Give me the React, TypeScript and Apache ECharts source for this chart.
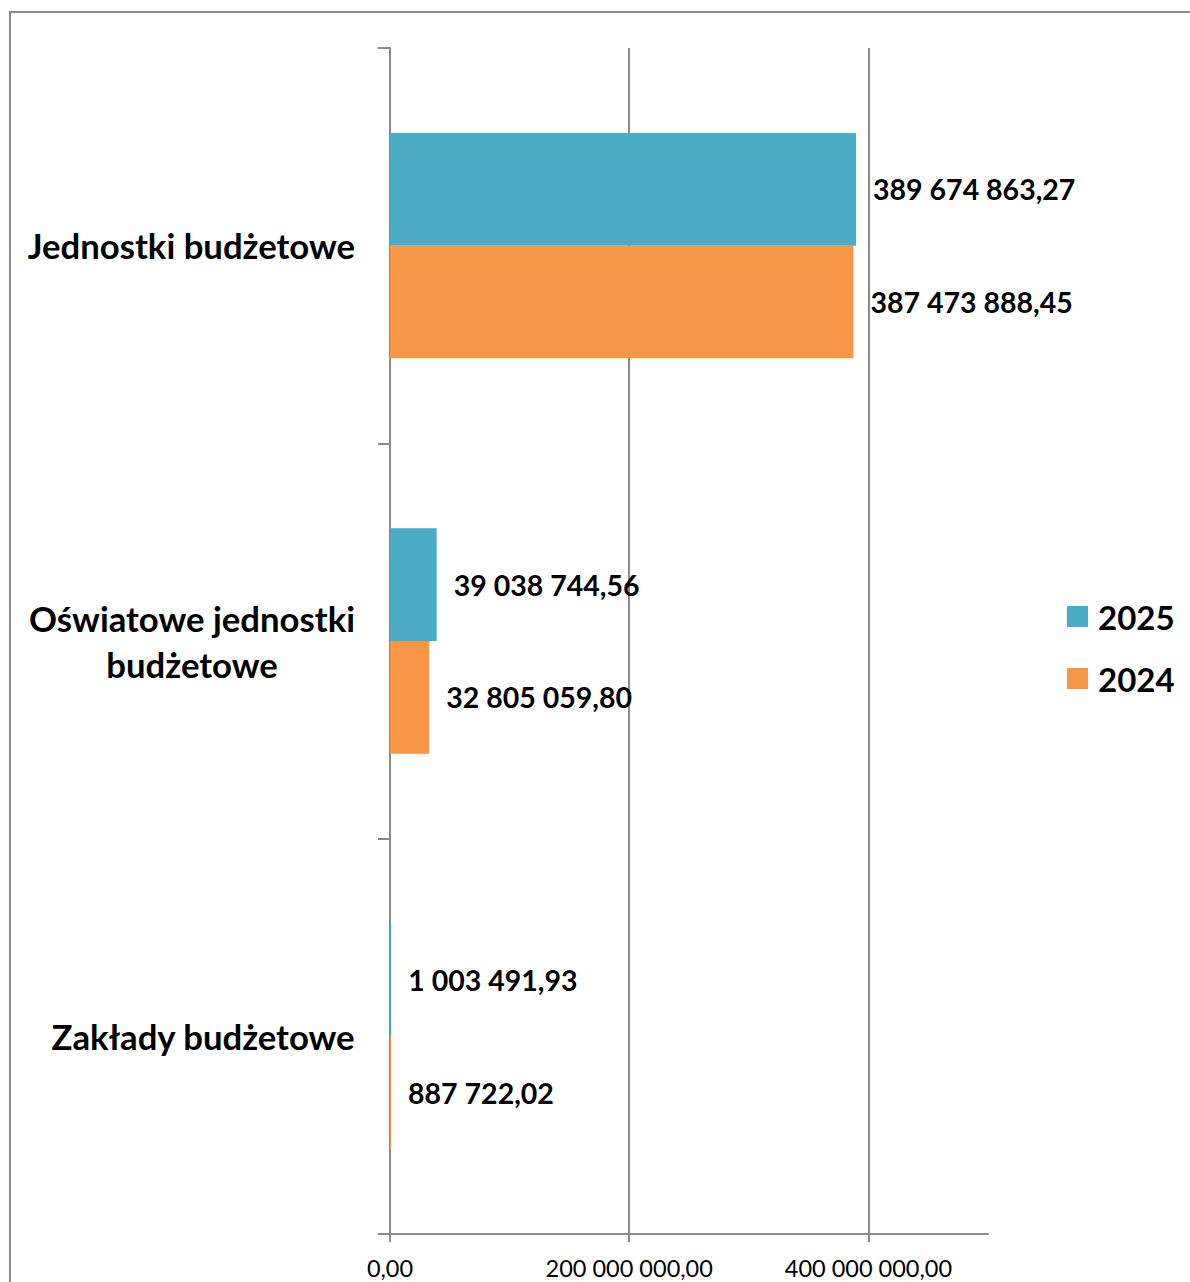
import React, { useEffect, useRef } from 'react';
import * as echarts from 'echarts';

const categories = ['Jednostki budżetowe', 'Oświatowe jednostki\nbudżetowe', 'Zakłady budżetowe'];
const seriesNames = ['2025', '2024'];
const values2025 = [389674863.27, 39038744.56, 1003491.93];
const values2024 = [387473888.45, 32805059.8, 887722.02];
const xTicks = [0, 200000000, 400000000];
const xMin = 0;
const xMax = 500000000;
const xInterval = 200000000;

const FONT = 'Lato';
const GRAY = '#8a8a8a';

function fmt(v: number): string {
  const [i, d] = Number(v).toFixed(2).split('.');
  return i.replace(/\B(?=(\d{3})+(?!\d))/g, ' ') + ',' + d;
}

export default function App() {
  const ref = useRef<HTMLDivElement>(null);
  useEffect(() => {
    if (!ref.current) return;
    const chart = echarts.init(ref.current, null, { renderer: 'svg' });
    const labelStyle = {
      show: true,
      position: 'right',
      distance: 17,
      formatter: (p: any) => fmt(p.value),
      fontFamily: FONT,
      fontSize: 28.5,
      fontWeight: 'bold',
      color: '#000',
    };
    chart.setOption({
      animation: false,
      backgroundColor: '#ffffff',
      textStyle: { fontFamily: FONT },
      graphic: [
        {
          type: 'rect',
          silent: true,
          shape: { x: 10, y: 12, width: 1200, height: 1300 },
          style: { fill: 'none', stroke: GRAY, lineWidth: 2 },
        },
      ],
      grid: { left: 390, right: 202, top: 48, bottom: 48, containLabel: false, outerBoundsMode: 'none' },
      legend: {
        orient: 'vertical',
        left: 1062,
        top: 591,
        itemWidth: 21,
        itemHeight: 21,
        itemGap: 21,
        icon: 'rect',
        data: seriesNames,
        textStyle: { fontFamily: FONT, fontSize: 33, fontWeight: 'bold', color: '#000', lineHeight: 41, padding: [0, 0, 0, 5] },
      },
      xAxis: {
        type: 'value',
        min: xMin,
        max: xMax,
        interval: xInterval,
        axisLine: { show: true, lineStyle: { color: GRAY, width: 2 } },
        axisTick: { show: true, length: 8, customValues: xTicks, lineStyle: { color: GRAY, width: 2 } },
        axisLabel: { customValues: xTicks, formatter: (v: number) => fmt(v), fontFamily: FONT, fontSize: 23.5, color: '#000', margin: 22 },
        splitLine: { show: true, lineStyle: { color: GRAY, width: 2 } },
      },
      yAxis: {
        type: 'category',
        data: categories,
        inverse: true,
        axisLine: { show: true, lineStyle: { color: GRAY, width: 2 } },
        axisTick: { show: true, length: 12, lineStyle: { color: GRAY, width: 2 } },
        axisLabel: {
          margin: 35,
          formatter: (v: string) => v.split('\n').map((l) => `{c|${l}}`).join('\n'),
          rich: {
            c: { align: 'center', fontFamily: FONT, fontSize: 34.7, fontWeight: 'bold', color: '#000', lineHeight: 46 },
          },
        },
      },
      series: [
        {
          name: seriesNames[0],
          type: 'bar',
          data: values2025,
          barGap: '0%',
          barCategoryGap: '43%',
          itemStyle: { color: '#4BACC6' },
          label: labelStyle,
        },
        {
          name: seriesNames[1],
          type: 'bar',
          data: values2024,
          barGap: '0%',
          barCategoryGap: '43%',
          itemStyle: { color: '#F79646' },
          label: labelStyle,
        },
      ],
    });
    return () => chart.dispose();
  }, []);
  return <div ref={ref} style={{ position: 'absolute', left: 0, top: 0, width: 1190, height: 1282 }} />;
}
